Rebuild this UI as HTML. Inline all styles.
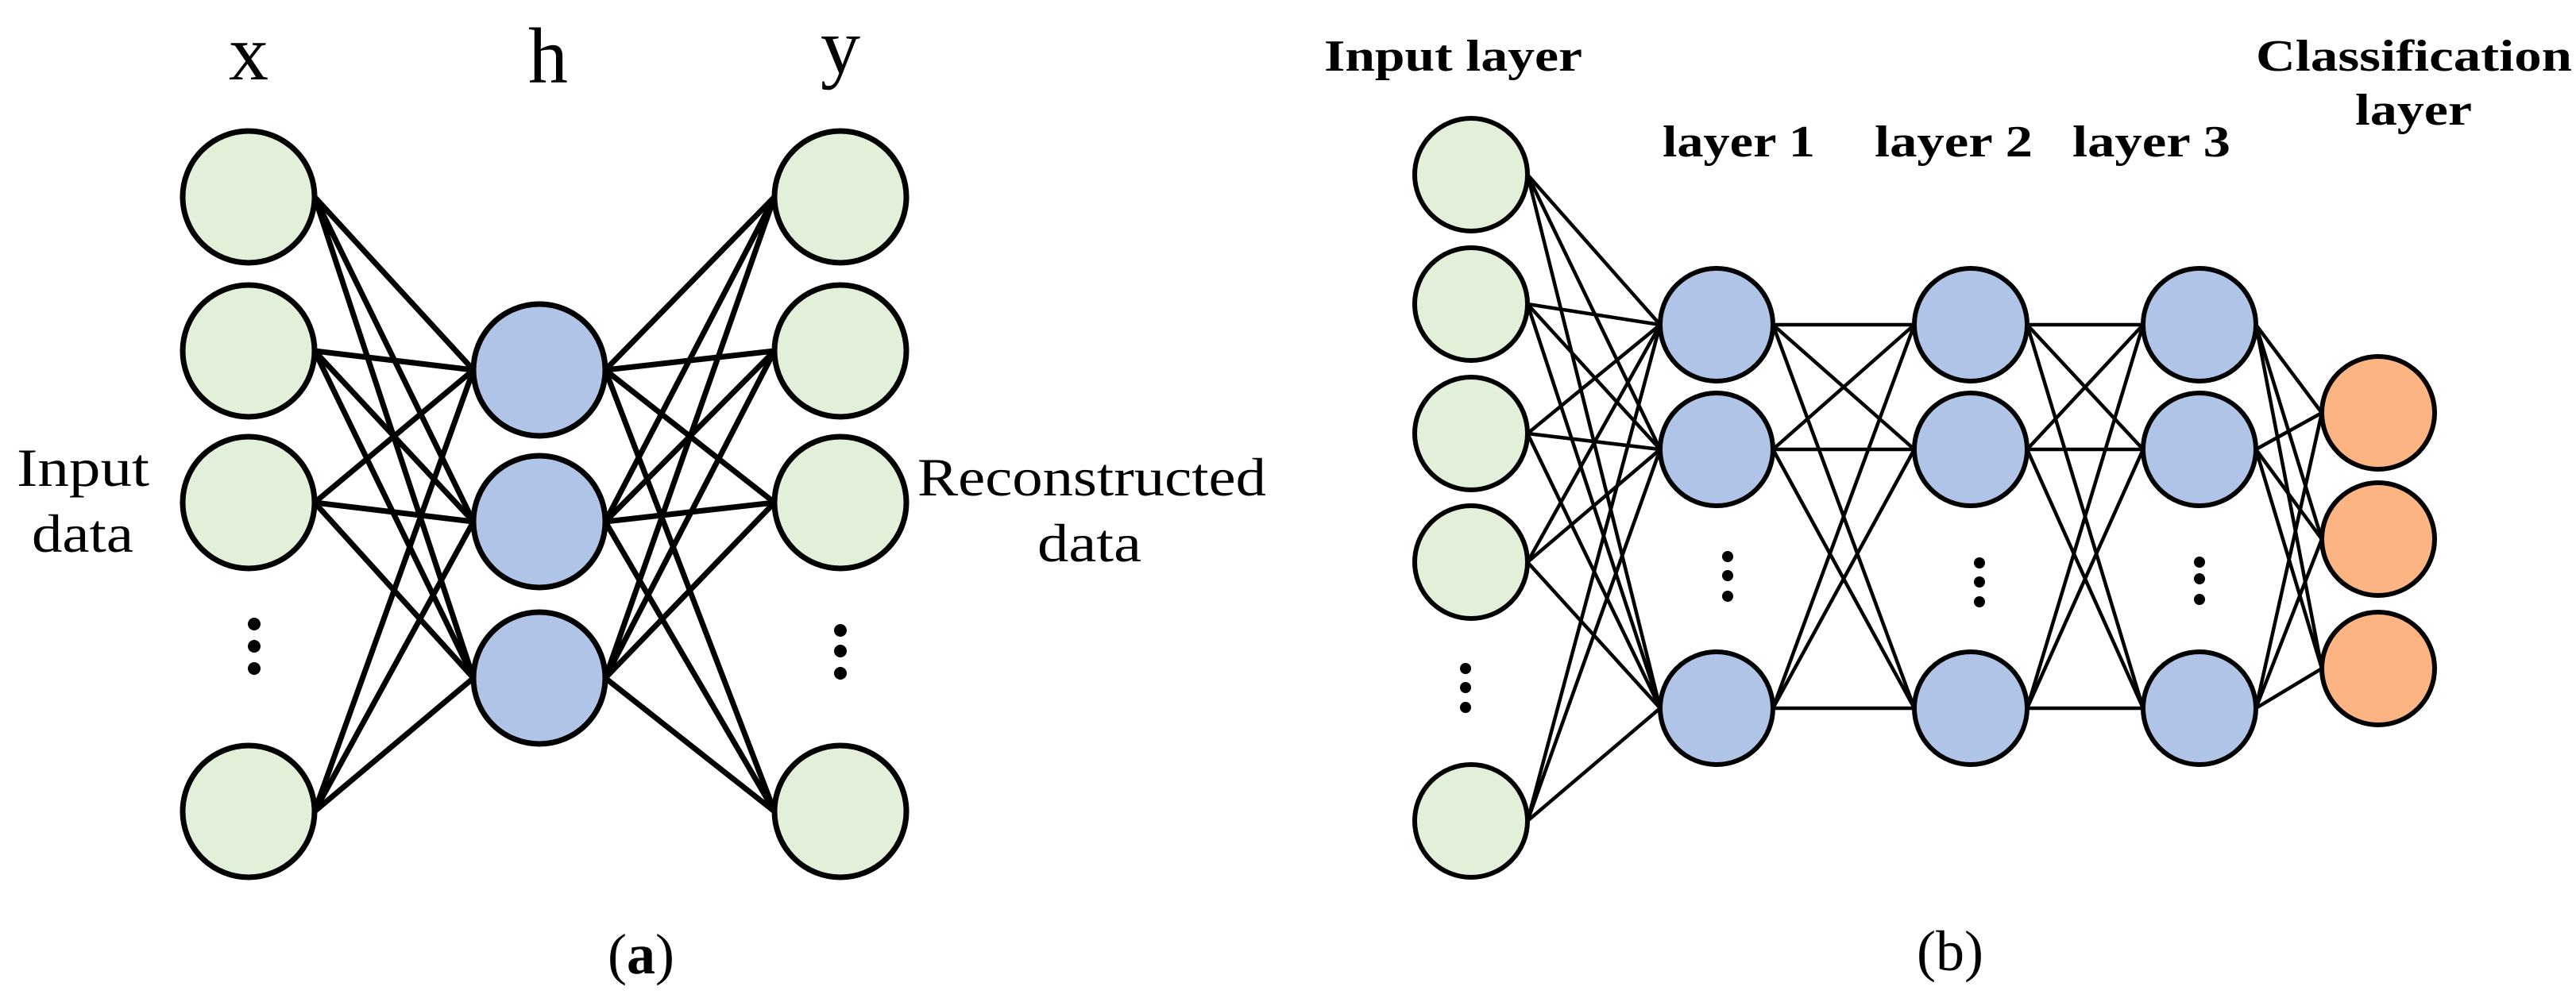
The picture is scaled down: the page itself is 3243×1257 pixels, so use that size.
<!DOCTYPE html>
<html><head><meta charset="utf-8"><style>html,body{margin:0;padding:0;background:#fff}svg{display:block}.t{font-family:"Liberation Serif",serif}</style></head>
<body>
<svg width="3243" height="1257" viewBox="0 0 3243 1257" xmlns="http://www.w3.org/2000/svg">
<g stroke="#000" stroke-width="7" stroke-linecap="round" id="la"></g>
<g stroke="#000" stroke-width="4.5" stroke-linecap="round" id="lb"></g>
<g id="nodes" stroke="#000"></g>
<g class="t" fill="#000">
<text x="313" y="100" font-size="100" text-anchor="middle">x</text>
<text x="690" y="104" font-size="100" text-anchor="middle">h</text>
<text x="1058" y="92" font-size="100" text-anchor="middle">y</text>
<text x="21" y="612" font-size="68" textLength="167" lengthAdjust="spacingAndGlyphs">Input</text>
<text x="40" y="695" font-size="68" textLength="128" lengthAdjust="spacingAndGlyphs">data</text>
<text x="1155" y="624" font-size="68" textLength="439" lengthAdjust="spacingAndGlyphs">Reconstructed</text>
<text x="1306" y="707" font-size="68" textLength="131" lengthAdjust="spacingAndGlyphs">data</text>
<text x="807" y="1226" font-size="72" text-anchor="middle">(<tspan font-weight="bold">a</tspan>)</text>
<text x="2455" y="1222" font-size="72" text-anchor="middle">(b)</text>
<g font-weight="bold" font-size="56">
<text x="1667" y="89" textLength="325" lengthAdjust="spacingAndGlyphs">Input layer</text>
<text x="2093" y="197" textLength="192" lengthAdjust="spacingAndGlyphs">layer 1</text>
<text x="2360" y="197" textLength="199" lengthAdjust="spacingAndGlyphs">layer 2</text>
<text x="2609" y="197" textLength="199" lengthAdjust="spacingAndGlyphs">layer 3</text>
<text x="2840" y="89" textLength="398" lengthAdjust="spacingAndGlyphs">Classification</text>
<text x="2965" y="157" textLength="147" lengthAdjust="spacingAndGlyphs">layer</text>
</g>
</g>
<g fill="#000" id="dots"></g>
</svg>
<script>
var NS="http://www.w3.org/2000/svg";
function el(p,t,a){var e=document.createElementNS(NS,t);for(var k in a)e.setAttribute(k,a[k]);document.getElementById(p).appendChild(e);}
function conn(p,x1,ys1,x2,ys2){ys1.forEach(function(a){ys2.forEach(function(b){el(p,'line',{x1:x1,y1:a,x2:x2,y2:b});});});}
var G="#e2f0d9",B="#afc4e7",O="#fbb482";
var ax=[248,442,633,1022], ah=[466,657,854], r=83;
conn('la',313+r,ax,679-r,ah);
conn('la',679+r,ah,1058-r,ax);
ax.forEach(function(y){el('nodes','ellipse',{cx:313,cy:y,rx:r,ry:r,fill:G,'stroke-width':7});el('nodes','ellipse',{cx:1058,cy:y,rx:r,ry:r,fill:G,'stroke-width':7});});
ah.forEach(function(y){el('nodes','ellipse',{cx:679,cy:y,rx:r,ry:r,fill:B,'stroke-width':7});});
[786,814,842].forEach(function(y){el('dots','circle',{cx:320,cy:y,r:8});});
[794,820,848].forEach(function(y){el('dots','circle',{cx:1058,cy:y,r:8});});
var R=71, bi=[220,383,546,708,1034], bl=[409,566,892], bc=[520,679,842];
conn('lb',1852+R,bi,2161-R,bl);
conn('lb',2161+R,bl,2481-R,bl);
conn('lb',2481+R,bl,2769-R,bl);
conn('lb',2769+R,bl,2994-R,bc);
bi.forEach(function(y){el('nodes','ellipse',{cx:1852,cy:y,rx:R,ry:R,fill:G,'stroke-width':6});});
[2161,2481,2769].forEach(function(x){bl.forEach(function(y){el('nodes','ellipse',{cx:x,cy:y,rx:R,ry:R,fill:B,'stroke-width':6});});});
bc.forEach(function(y){el('nodes','ellipse',{cx:2994,cy:y,rx:R,ry:R,fill:O,'stroke-width':6});});
[842,866,891].forEach(function(y){el('dots','circle',{cx:1845,cy:y,r:7});});
[701,725,751].forEach(function(y){el('dots','circle',{cx:2175,cy:y,r:7});});
[709,733,758].forEach(function(y){el('dots','circle',{cx:2492,cy:y,r:7});});
[708,729,755].forEach(function(y){el('dots','circle',{cx:2769,cy:y,r:7});});
</script>
</body></html>
